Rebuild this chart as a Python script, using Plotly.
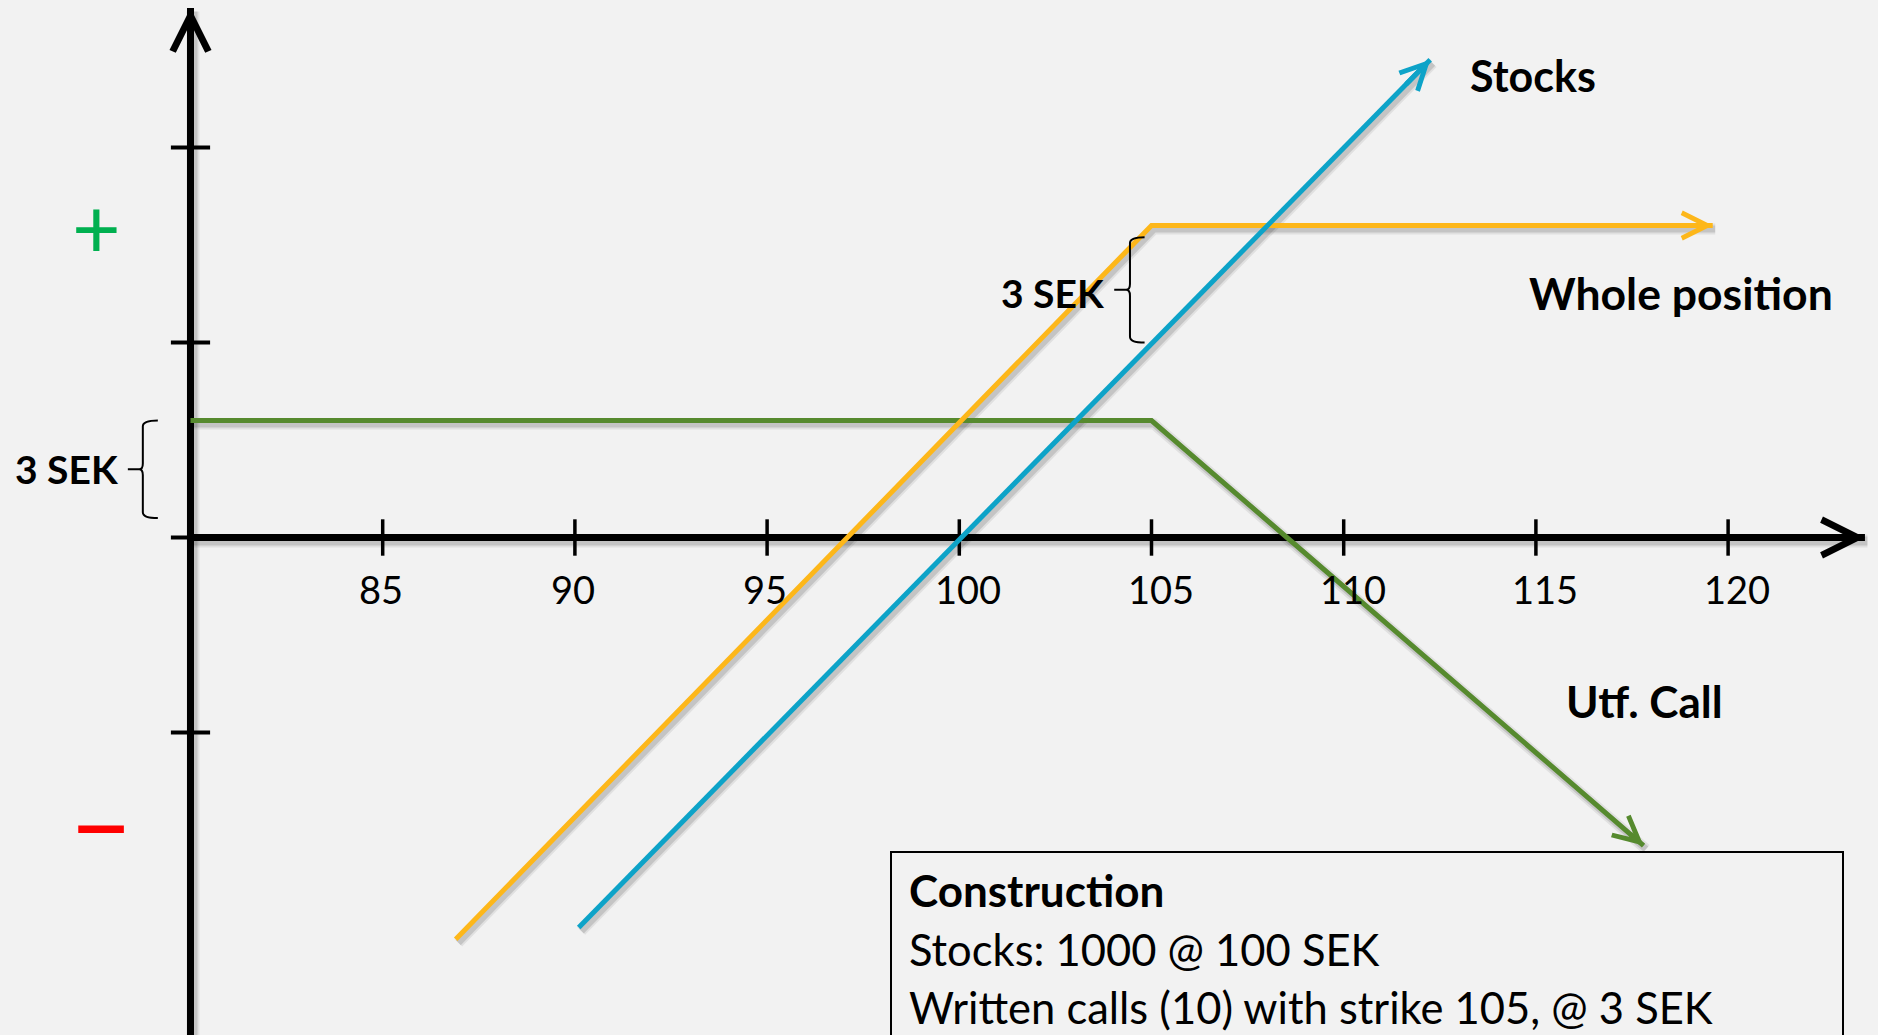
import plotly.graph_objects as go

# ---------------------------------------------------------------
# Covered call payoff: long stock + written call (strike 105, premium 3)
# x = share price at expiry (SEK), y = profit per share (SEK)
# ---------------------------------------------------------------
stock_price = [90.1, 112.25]
stock_pnl = [-10.0, 12.25]

whole_price = [86.9, 105, 119.6]
whole_pnl = [-10.3, 8, 8]

call_price = [80, 105, 117.8]
call_pnl = [3, 3, -7.9]

x_ticks = [85, 90, 95, 100, 105, 110, 115, 120]
x_tick_labels = ["85", "90", "95", "100", "105", "110", "115", "120"]
y_ticks = [-5, 0, 5, 10]

axis_origin = [80, 0]          # where the two drawn axes meet
x_axis_end = 123.56
y_axis_top = 13.58

premium_brace = [0.5, 3]       # bracket next to the y axis (call premium)
gap_brace = [5.0, 7.7]         # bracket between stock and whole position at 105

construction_lines = [
    "<b>Construction</b>",
    "Stocks: 1000 @ 100 SEK",
    "Written calls (10) with strike 105, @ 3 SEK",
]

# ---------------------------------------------------------------
# Canvas geometry
# ---------------------------------------------------------------
W, H = 1878, 1035
PX_X, ORIG_PX_X = 38.44, 190.5     # pixels per SEK on x, pixel of x=80
PX_Y, ORIG_PX_Y = 39.0, 537.5      # pixels per SEK on y, pixel of y=0
X_RANGE = [80 - ORIG_PX_X / PX_X, 80 + (W - ORIG_PX_X) / PX_X]
Y_RANGE = [-(H - ORIG_PX_Y) / PX_Y, ORIG_PX_Y / PX_Y]

SH_DX, SH_DY = 2.5, 3.5            # drop-shadow offset in pixels
SH_X_RANGE = [v - SH_DX / PX_X for v in X_RANGE]
SH_Y_RANGE = [v + SH_DY / PX_Y for v in Y_RANGE]

BG = "#F2F2F2"
ORANGE = "#FDB71A"
BLUE = "#0DA3C8"
GREEN = "#568A2E"
FONT = "Lato"

fig = go.Figure()

# series drawn bottom to top
series = [
    ("axis_x", [axis_origin[0], x_axis_end], [0, 0], "black", 7),
    ("axis_y", [axis_origin[0], axis_origin[0]], [Y_RANGE[0] - 1, y_axis_top], "black", 7),
    ("Utf. Call", call_price, call_pnl, GREEN, 5),
    ("Whole position", whole_price, whole_pnl, ORANGE, 5),
    ("Stocks", stock_price, stock_pnl, BLUE, 5),
]

# soft drop shadow on the lower (shifted) axes
for name, xs, ys, color, w in series:
    for sw, alpha in [(w + 6, 0.07), (w + 2, 0.12)]:
        fig.add_trace(go.Scatter(
            x=xs, y=ys, mode="lines", xaxis="x", yaxis="y",
            line=dict(color=f"rgba(0,0,0,{alpha})", width=sw),
            hoverinfo="skip", showlegend=False,
        ))

# tick marks on the axes
fig.add_trace(go.Scatter(
    x=x_ticks, y=[0] * len(x_ticks), mode="markers", xaxis="x2", yaxis="y2",
    marker=dict(symbol="line-ns", size=26, line=dict(color="black", width=3.5)),
    hoverinfo="skip", showlegend=False,
))
fig.add_trace(go.Scatter(
    x=[axis_origin[0]] * len(y_ticks), y=y_ticks, mode="markers", xaxis="x2", yaxis="y2",
    marker=dict(symbol="line-ew", size=28, line=dict(color="black", width=4)),
    hoverinfo="skip", showlegend=False,
))

for name, xs, ys, color, w in series:
    fig.add_trace(go.Scatter(
        x=xs, y=ys, mode="lines", xaxis="x2", yaxis="y2", name=name,
        line=dict(color=color, width=w),
        hoverinfo="skip", showlegend=False,
    ))

annotations = []


def arrow_head(xs, ys, color, width, size):
    x1, y1 = xs[-1], ys[-1]
    x0, y0 = xs[-2], ys[-2]
    return dict(
        x=x1, y=y1, ax=x1 - 0.03 * (x1 - x0), ay=y1 - 0.03 * (y1 - y0),
        xref="x2", yref="y2", axref="x2", ayref="y2",
        showarrow=True, arrowhead=5, arrowsize=size, arrowwidth=width,
        arrowcolor=color, standoff=0, text="",
    )


for name, xs, ys, color, w in series:
    annotations.append(arrow_head(xs, ys, color, w, 1.0))

# x tick labels, left-aligned a little before each tick
for t, lab in zip(x_ticks, x_tick_labels):
    annotations.append(dict(
        x=t, y=0, xref="x2", yref="y2", xshift=-26, yshift=-51, text=lab,
        showarrow=False, xanchor="left", yanchor="middle",
        font=dict(family=FONT, size=38, color="black"),
    ))


def px_label(text, left, cy, size, bold=False, color="black", anchor="left"):
    return dict(
        x=left / W, y=1 - cy / H, xref="paper", yref="paper", text=text,
        showarrow=False, xanchor=anchor, yanchor="middle",
        font=dict(family=FONT, size=size, color=color, weight=700 if bold else 400),
    )


annotations += [
    px_label("Stocks", 1468, 76, 43, bold=True),
    px_label("Whole position", 1527, 293, 44.5, bold=True),
    px_label("3 SEK", 999, 293, 39, bold=True),
    px_label("3 SEK", 13, 469, 39, bold=True),
    px_label("Utf. Call", 1564, 701, 44, bold=True),
    px_label(construction_lines[0], 907, 890, 44, bold=True),
    px_label(construction_lines[1], 907, 949, 43.5),
    px_label(construction_lines[2], 907, 1007, 43.5),
    px_label("+", 96, 226, 84, color="#00B050", anchor="center"),
    px_label("\u2013", 101, 818, 114, color="#FF0000", anchor="center"),
]


def brace_path(x_right, x_mid, x_tip, y_low, y_high, ry):
    # left-pointing curly bracket with a short horizontal nose
    y_c = (y_low + y_high) / 2
    x_nose = x_mid - 0.25 * (x_mid - x_tip)
    return (
        f"M {x_right},{y_high} Q {x_mid},{y_high} {x_mid},{y_high - ry} "
        f"L {x_mid},{y_c + ry} Q {x_mid},{y_c} {x_nose},{y_c} "
        f"L {x_tip},{y_c} M {x_nose},{y_c} "
        f"Q {x_mid},{y_c} {x_mid},{y_c - ry} "
        f"L {x_mid},{y_low + ry} Q {x_mid},{y_low} {x_right},{y_low}"
    )


shapes = [
    dict(type="path", xref="x2", yref="y2",
         path=brace_path(79.15, 78.76, 78.37, premium_brace[0], premium_brace[1], 0.15),
         line=dict(color="black", width=2)),
    dict(type="path", xref="x2", yref="y2",
         path=brace_path(104.82, 104.44, 104.03, gap_brace[0], gap_brace[1], 0.15),
         line=dict(color="black", width=2)),
    dict(type="rect", xref="paper", yref="paper",
         x0=891 / W, x1=1843 / W, y0=-0.05, y1=1 - 852 / H,
         line=dict(color="black", width=2), fillcolor="rgba(0,0,0,0)"),
]

hidden = dict(visible=False, showgrid=False, zeroline=False, fixedrange=True)
fig.update_layout(
    width=W, height=H,
    margin=dict(l=0, r=0, t=0, b=0),
    paper_bgcolor=BG, plot_bgcolor=BG,
    xaxis=dict(range=SH_X_RANGE, domain=[0, 1], **hidden),
    yaxis=dict(range=SH_Y_RANGE, domain=[0, 1], **hidden),
    xaxis2=dict(range=X_RANGE, domain=[0, 1], overlaying="x", **hidden),
    yaxis2=dict(range=Y_RANGE, domain=[0, 1], overlaying="y", **hidden),
    annotations=annotations,
    shapes=shapes,
    showlegend=False,
)

fig.write_html("out.html", config={"displayModeBar": False})
